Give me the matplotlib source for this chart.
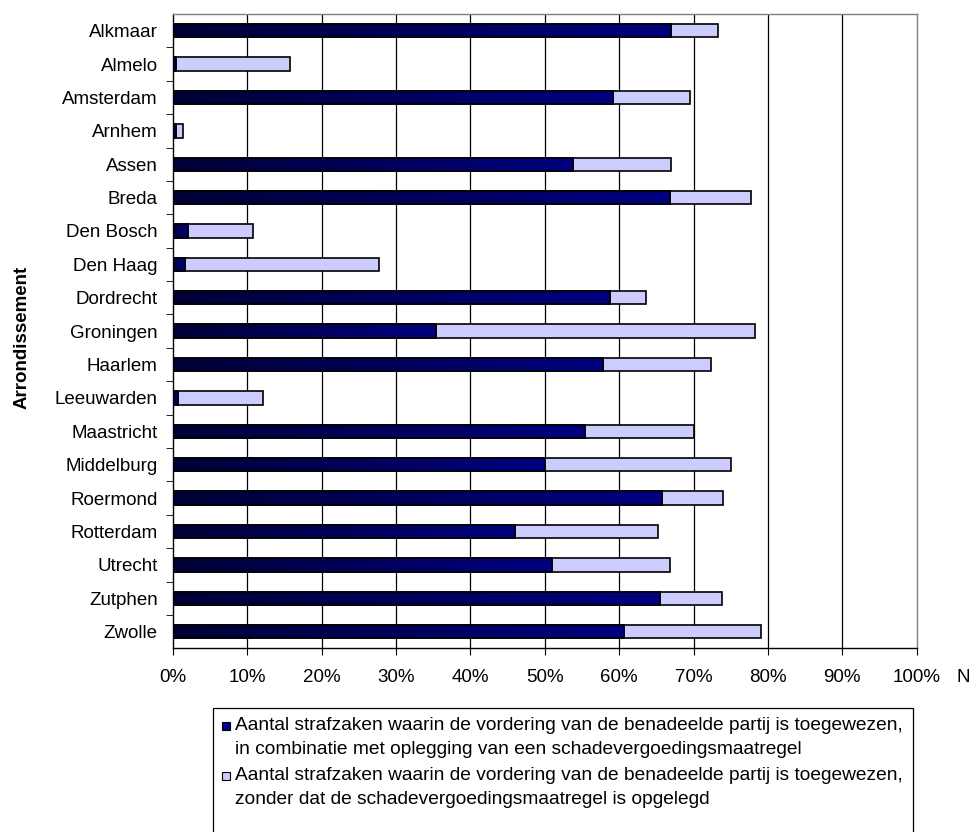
import numpy as np
import matplotlib
matplotlib.use("Agg")
import matplotlib.pyplot as plt
from matplotlib.patches import Rectangle
from matplotlib.ticker import FixedLocator

plt.rcParams['font.family'] = ['Liberation Sans', 'DejaVu Sans']

# arrondissementen, top to bottom
arrondissementen = ['Alkmaar', 'Almelo', 'Amsterdam', 'Arnhem', 'Assen', 'Breda',
                    'Den Bosch', 'Den Haag', 'Dordrecht', 'Groningen', 'Haarlem',
                    'Leeuwarden', 'Maastricht', 'Middelburg', 'Roermond', 'Rotterdam',
                    'Utrecht', 'Zutphen', 'Zwolle']
# % met schadevergoedingsmaatregel
met_maatregel = [67.0, 0.4, 59.2, 0.4, 53.8, 66.8, 2.0, 1.6, 58.7, 35.3, 57.8,
                 0.7, 55.4, 50.0, 65.7, 46.0, 50.9, 65.5, 60.7]
# totaal toegewezen (%), zonder maatregel = totaal - met
totaal = [73.3, 15.8, 69.5, 1.35, 67.0, 77.7, 10.7, 27.7, 63.6, 78.2, 72.3,
          12.1, 70.1, 75.1, 73.9, 65.2, 66.8, 73.8, 79.1]
zonder_maatregel = [t - m for t, m in zip(totaal, met_maatregel)]

xticks = [0, 10, 20, 30, 40, 50, 60, 70, 80, 90, 100]
legend_labels = [
    ['Aantal strafzaken waarin de vordering van de benadeelde partij is toegewezen,',
     'in combinatie met oplegging van een schadevergoedingsmaatregel'],
    ['Aantal strafzaken waarin de vordering van de benadeelde partij is toegewezen,',
     'zonder dat de schadevergoedingsmaatregel is opgelegd'],
]

light = '#ccccff'
dark = '#000080'
fs = 13.5

fig = plt.figure(figsize=(9.73, 8.32), dpi=100)
ax = fig.add_axes([0.1778, 0.2208, 0.7643, 0.7624])

y = np.arange(len(arrondissementen))
h = 0.4

for xv in xticks[1:-1]:
    ax.axvline(xv, color='black', lw=0.9, zorder=0)

bars = ax.barh(y, met_maatregel, height=h, color=dark, edgecolor='black', lw=1.2, zorder=2)
ax.barh(y, zonder_maatregel, left=met_maatregel, height=h, color=light,
        edgecolor='black', lw=1.2, zorder=2)

# horizontal gradient in the dark bars (Excel style)
grad = np.linspace(0, 1, 256).reshape(1, -1)
cmap = matplotlib.colors.LinearSegmentedColormap.from_list('navy', ['#000035', '#000080'])
for b in bars:
    x0, y0 = b.get_x(), b.get_y()
    w, hh = b.get_width(), b.get_height()
    if w <= 0:
        continue
    im = ax.imshow(grad, cmap=cmap, aspect='auto', extent=(x0, x0 + w, y0 + hh, y0),
                   zorder=2.5, interpolation='bilinear')
    im.set_clip_path(b)
    ax.add_patch(Rectangle((x0, y0), w, hh, fill=False, edgecolor='black',
                           lw=1.2, zorder=3))

ax.set_xlim(0, 100)
ax.set_ylim(len(arrondissementen) - 0.5, -0.5)
ax.set_xticks(xticks)
ax.set_xticklabels([f'{v}%' for v in xticks], fontsize=fs)
ax.tick_params(axis='x', direction='out', length=5, pad=10)

ax.set_yticks(y)
ax.set_yticklabels(arrondissementen, fontsize=fs)
ax.tick_params(axis='y', which='major', length=0, pad=11)
ax.yaxis.set_minor_locator(FixedLocator(np.arange(0.5, len(arrondissementen) - 0.5, 1)))
ax.tick_params(axis='y', which='minor', direction='out', length=5)

for s in ['top', 'right']:
    ax.spines[s].set_color('#808080')
for s in ['left', 'bottom']:
    ax.spines[s].set_color('black')
for s in ax.spines.values():
    s.set_linewidth(1.0)

ax.set_ylabel('Arrondissement', fontsize=13.5, fontweight='bold')
ax.yaxis.set_label_coords(-0.192, 0.49)
fig.text(963 / 973, 1 - 678 / 832, 'N', fontsize=fs, ha='center', va='center')

# legend box drawn by hand: marker next to the first line of each entry
W, H = 973, 832
fig.patches.append(Rectangle((213 / W, -0.05), 700 / W, 1 - 708 / H + 0.05,
                             transform=fig.transFigure, facecolor='white',
                             edgecolor='black', lw=0.9))
for (line1, line2), col, ytop in zip(legend_labels, [dark, light], [726, 776]):
    fig.patches.append(Rectangle((222 / W, 1 - (ytop + 4) / H), 8 / W, 8 / H,
                                 transform=fig.transFigure, facecolor=col,
                                 edgecolor='black', lw=0.8))
    fig.text(235 / W, 1 - ytop / H, line1, fontsize=13.8, va='center', ha='left')
    fig.text(235 / W, 1 - (ytop + 23) / H, line2, fontsize=13.8, va='center', ha='left')

fig.savefig('out.png', dpi=100)
